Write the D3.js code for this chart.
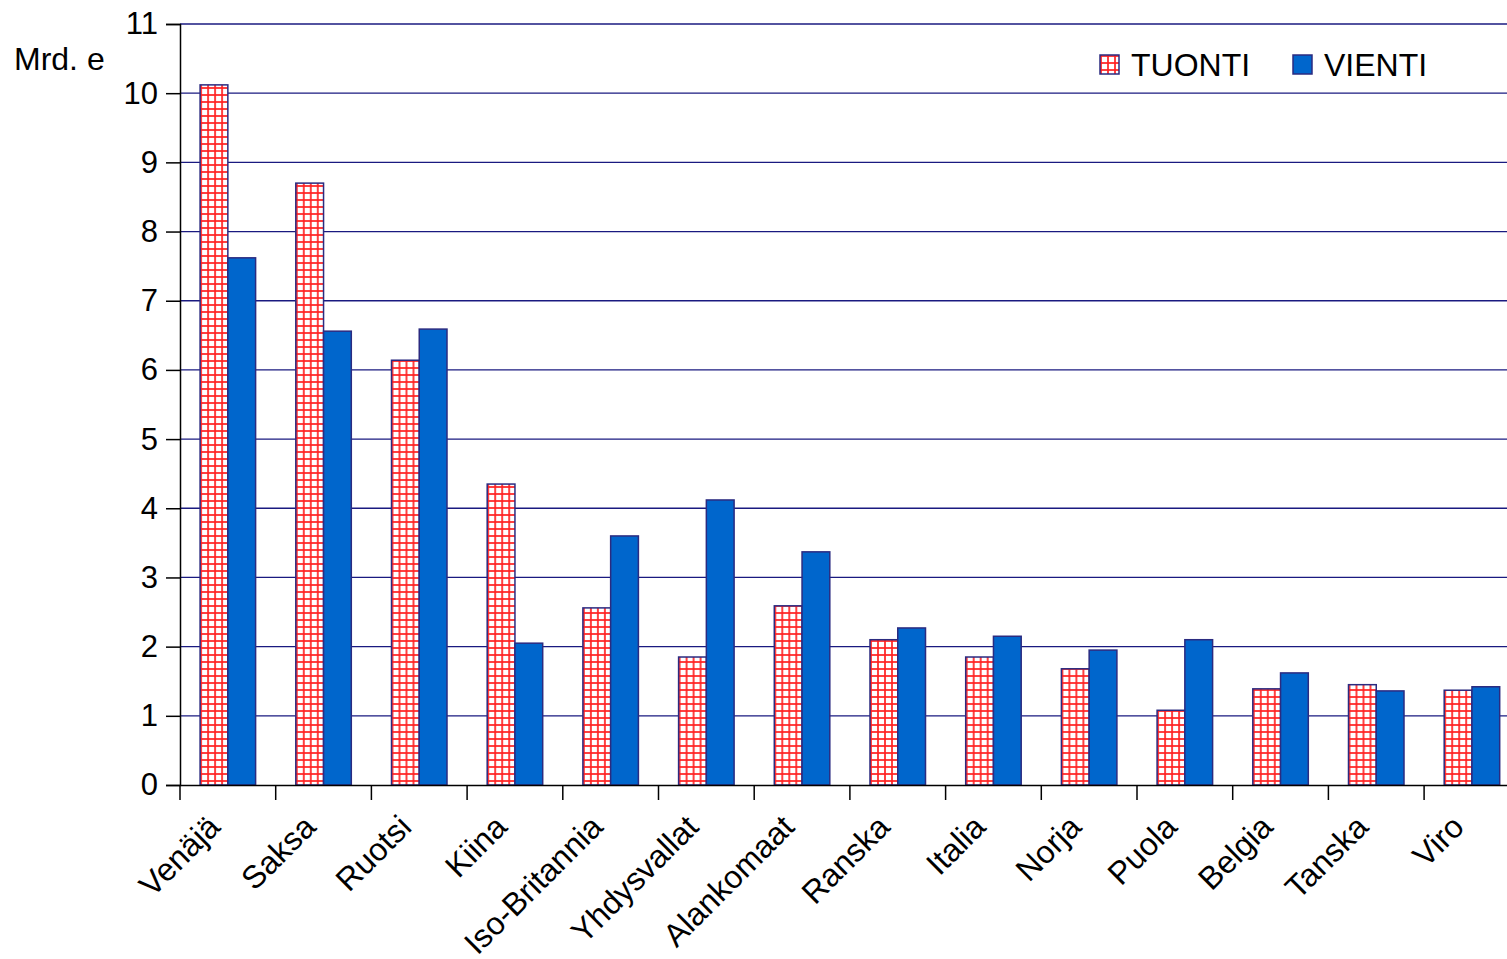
<!DOCTYPE html>
<html lang="en">
<head>
  <meta charset="UTF-8">
  <title>Tuonti ja vienti maittain</title>
  <script src="https://d3js.org/d3.v7.min.js"></script>
  <style>
    body { margin: 0; background: #fff; }
    svg { display: block; font-family: "Liberation Sans", Arial, sans-serif; }
  </style>
</head>
<body>
<svg width="1507" height="959"></svg>
<script>
const countries = ["Venäjä", "Saksa", "Ruotsi", "Kiina", "Iso-Britannia", "Yhdysvallat", "Alankomaat",
                   "Ranska", "Italia", "Norja", "Puola", "Belgia", "Tanska", "Viro"];
const tuonti = [10.12, 8.70, 6.14, 4.35, 2.56, 1.85, 2.59, 2.10, 1.85, 1.68, 1.08, 1.39, 1.45, 1.37];
const vienti = [7.62, 6.56, 6.59, 2.05, 3.60, 4.12, 3.37, 2.27, 2.15, 1.95, 2.10, 1.62, 1.36, 1.42];
const series = ["TUONTI", "VIENTI"];
const yTicks = d3.range(0, 12);

const svg = d3.select("svg");
const margin = {top: 24, left: 180, bottom: 174};
const plotH = 959 - margin.top - margin.bottom;
const plotW = 95.7 * countries.length;

// grid pattern for imports
const defs = svg.append("defs");
const pat = defs.append("pattern")
  .attr("id", "grid")
  .attr("patternUnits", "userSpaceOnUse")
  .attr("width", 7).attr("height", 7);
pat.append("rect").attr("width", 7).attr("height", 7).attr("fill", "#fff");
pat.append("rect").attr("x", 0).attr("y", 0).attr("width", 2).attr("height", 7).attr("fill", "#ff2020").attr("opacity", 0.85);
pat.append("rect").attr("x", 0).attr("y", 0).attr("width", 7).attr("height", 2).attr("fill", "#ff2020").attr("opacity", 0.85);

const g = svg.append("g").attr("transform", `translate(${margin.left},${margin.top})`);

const x = d3.scaleBand().domain(countries).range([0, plotW]).paddingInner(0.42).paddingOuter(0.21);
const xs = d3.scaleBand().domain(series).range([0, x.bandwidth()]);
const y = d3.scaleLinear().domain([0, 11]).range([plotH, 0]);

// gridlines
g.append("g").selectAll("line")
  .data(yTicks.filter(d => d > 0))
  .join("line")
  .attr("x1", 0).attr("x2", plotW)
  .attr("y1", d => y(d)).attr("y2", d => y(d))
  .attr("stroke", "#1a1a80").attr("stroke-width", 1.3);

// bars
const groups = g.append("g").selectAll("g")
  .data(countries.map((c, i) => ({c, vals: [tuonti[i], vienti[i]]})))
  .join("g")
  .attr("transform", d => `translate(${x(d.c)},0)`);

groups.selectAll("rect")
  .data(d => d.vals.map((v, j) => ({s: series[j], v})))
  .join("rect")
  .attr("x", d => xs(d.s))
  .attr("y", d => y(d.v))
  .attr("width", xs.bandwidth())
  .attr("height", d => y(0) - y(d.v))
  .attr("fill", d => d.s === "TUONTI" ? "url(#grid)" : "#0066cc")
  .attr("stroke", "#2b2b80")
  .attr("stroke-width", 1.5);

// y axis
const yAxis = g.append("g")
  .call(d3.axisLeft(y).tickValues(yTicks).tickSize(14).tickPadding(8));
yAxis.select(".domain").attr("stroke", "#000").attr("stroke-width", 1.5);
yAxis.selectAll(".tick line").attr("stroke", "#000").attr("stroke-width", 1.5);
yAxis.selectAll("text").attr("font-size", 31).attr("fill", "#000").attr("font-family", "Liberation Sans, Arial, sans-serif");

// x axis
const xAxis = g.append("g")
  .attr("transform", `translate(0,${plotH})`)
  .call(d3.axisBottom(x).tickSize(0).tickFormat(""));
xAxis.select(".domain").attr("stroke", "#000").attr("stroke-width", 1.5);

g.append("g").selectAll("line")
  .data(d3.range(0, countries.length + 1))
  .join("line")
  .attr("x1", i => i * plotW / countries.length)
  .attr("x2", i => i * plotW / countries.length)
  .attr("y1", plotH).attr("y2", plotH + 15)
  .attr("stroke", "#000").attr("stroke-width", 1.5);

g.append("g").selectAll("text")
  .data(countries)
  .join("text")
  .attr("transform", d => `translate(${x(d) + x.bandwidth() / 2 - 14},${plotH + 36}) rotate(-45)`)
  .attr("text-anchor", "end")
  .attr("dy", "0.35em")
  .attr("font-size", 32)
  .attr("fill", "#000")
  .text(d => d);

// unit label
svg.append("text")
  .attr("x", 14).attr("y", 70)
  .attr("font-size", 32)
  .attr("fill", "#000")
  .text("Mrd. e");

// legend
const legend = svg.append("g").attr("transform", "translate(1100,55)");
const legendX = [0, 193];
series.forEach((s, i) => {
  const lg = legend.append("g").attr("transform", `translate(${legendX[i]},0)`);
  lg.append("rect")
    .attr("width", 19).attr("height", 19)
    .attr("fill", s === "TUONTI" ? "url(#grid)" : "#0066cc")
    .attr("stroke", "#2b2b80").attr("stroke-width", 1.5);
  lg.append("text")
    .attr("x", 31).attr("y", 21)
    .attr("font-size", 32)
    .attr("fill", "#000")
    .text(s);
});
</script>
</body>
</html>
